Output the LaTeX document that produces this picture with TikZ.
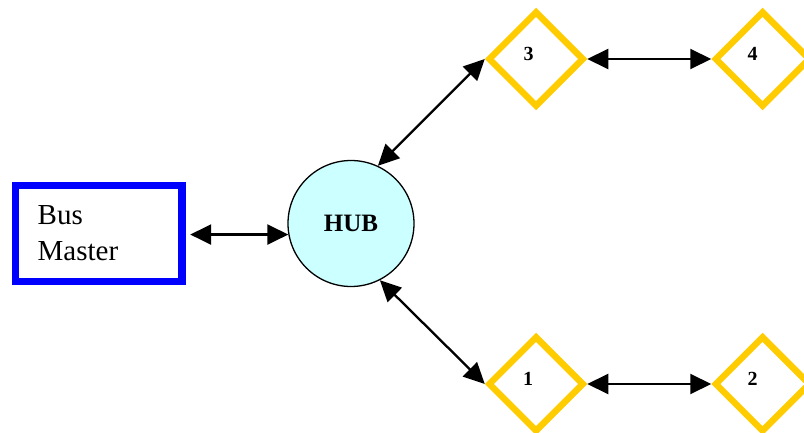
\documentclass[tikz,border=0pt]{standalone}
\usepackage{fontspec}
\setmainfont{Liberation Serif}
\usetikzlibrary{shapes.geometric,arrows.meta}
\definecolor{busblue}{HTML}{0000FF}
\definecolor{hubfill}{HTML}{CCFFFF}
\definecolor{gold}{HTML}{FFCC00}
\begin{document}
\begin{tikzpicture}[x=1pt,y=-1pt,
 busbox/.style={draw=busblue,line width=7.3pt,minimum width=166.7pt,minimum height=96pt,text width=122pt,align=left,inner xsep=22pt,font=\fontsize{29}{36}\selectfont},
 hubnode/.style={circle,draw=black,line width=1.3pt,fill=hubfill,minimum size=126pt,inner sep=0pt,font=\fontsize{25}{28}\selectfont\bfseries},
 slave/.style={diamond,draw=gold,line width=6.5pt,minimum width=96pt,minimum height=96pt,inner sep=0pt,aspect=1},
 numlbl/.style={font=\fontsize{20}{24}\selectfont\bfseries},
 link/.style={{Triangle[length=21pt,width=20pt]}-{Triangle[length=21pt,width=20pt]},line width=2.3pt}
]
\useasboundingbox (0,0) rectangle (804,433);
\node[busbox] (bus) at (98.7,233.4) {Bus\\Master};
\node[hubnode] (hub) at (351,223.5) {HUB};
\node[slave] (d3) at (536,59) {};
\node[slave] (d4) at (762.5,59) {};
\node[slave] (d1) at (536,384) {};
\node[slave] (d2) at (762.5,384) {};
\node[numlbl] (l3) at (528.5,54) {3};
\node[numlbl] (l4) at (752.5,54) {4};
\node[numlbl] (l1) at (528,378.5) {1};
\node[numlbl] (l2) at (752.5,378.5) {2};
\draw[link,shorten <=4.5pt] (hub.190.5 -| bus.east) -- (hub.190.5);
\draw[link] (hub.65) -- (d3.west);
\draw[link] (hub.-63) -- (d1.west);
\draw[link,line width=2pt] (d3.east) -- (d4.west);
\draw[link,line width=2pt] (d1.east) -- (d2.west);
\end{tikzpicture}
\end{document}
